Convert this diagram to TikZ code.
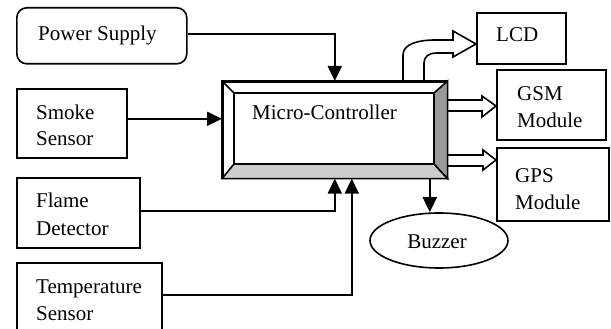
\documentclass[tikz,border=0pt]{standalone}
\usepackage{fontspec}
\setmainfont{Liberation Serif}
\usetikzlibrary{arrows.meta,calc,shapes.geometric}
\begin{document}
\begin{tikzpicture}[x=1pt,y=-1pt,
  box/.style={draw,line width=1.6pt,inner sep=0pt,fill=white,anchor=north west},
  txt/.style={anchor=base west,inner sep=0pt,font=\fontsize{21}{27}\selectfont},
  conn/.style={line width=2pt,-{Triangle[length=15pt,width=14pt]}},
  blk/.style={draw,line width=1.6pt,fill=white,line join=miter}]
\useasboundingbox (0,0) rectangle (611,329);
\clip (0,0) rectangle (611,329);
% boxes
\node[box,rounded corners=10pt,minimum width=170pt,minimum height=56pt] (ps) at (16,7) {};
\node[box,minimum width=110pt,minimum height=69pt] (smoke) at (16,88) {};
\node[box,minimum width=123pt,minimum height=70pt] (flame) at (16,177) {};
\node[box,minimum width=145pt,minimum height=80pt] (temp) at (16,262) {};
\node[box,minimum width=89pt,minimum height=51pt] (lcd) at (476,12) {};
\node[box,minimum width=109pt,minimum height=70pt] (gsm) at (496,69) {};
\node[box,minimum width=112pt,minimum height=73pt] (gps) at (496,147) {};
\node[draw,ellipse,line width=1.6pt,inner sep=0pt,minimum width=138pt,minimum height=55pt] (buzzer) at (439,240.5) {};
% block arrows
\draw[blk] (403,81) -- (403,55) .. controls (403,44) and (418,40) .. (435,40) -- (453,40) -- (453,31)
  -- (lcd.west |- 0,44) -- (453,57) -- (453,53) -- (437,53) .. controls (428,53) and (424,57) .. (424,63) -- (424,81);
\draw[blk] (446,100) -- (482,100) -- (482,96) -- (gsm.west |- 0,106) -- (482,117) -- (482,111) -- (446,111);
\draw[blk] (446,155) -- (483,155) -- (483,150) -- (gps.west |- 0,160) -- (483,170) -- (483,166) -- (446,166);
% micro-controller
\node[box,minimum width=224pt,minimum height=96pt] (mc) at (222,81) {};
\coordinate (i1) at (234,93);
\coordinate (i2) at (434,93);
\coordinate (i3) at (434,164);
\coordinate (i4) at (234,164);
\draw[line width=1.6pt,fill=gray!40,line join=miter] (mc.south west) -- (i4) -- (i3) -- (mc.south east) -- cycle;
\draw[line width=1.6pt,fill=gray!80,line join=miter] (mc.north east) -- (i2) -- (i3) -- (mc.south east) -- cycle;
\draw[line width=1.6pt,line join=miter] (i1) rectangle (i3);
\draw[line width=1.6pt] (mc.north west) -- (i1);
\draw[line width=1.6pt] (mc.north west) rectangle (mc.south east);
% connectors
\draw[conn] ([yshift=2pt]ps.east) -| (mc.north);
\draw[conn] ([yshift=4.5pt]smoke.east) -- ([yshift=4.5pt]smoke.east -| mc.west);
\draw[conn] ([yshift=2pt]flame.east) -| (mc.south);
\draw[conn] ([yshift=8pt]temp.east) -| ([xshift=17pt]mc.south);
\draw[conn] ([xshift=95pt]mc.south) -- ([xshift=95pt]mc.south |- buzzer.north);
% texts
\node[txt] (tps) at (38,41) {Power Supply};
\node[txt] (tsm1) at (36,119) {Smoke};
\node[txt] (tsm2) at (36,146) {Sensor};
\node[txt] (tfl1) at (36,207) {Flame};
\node[txt] (tfl2) at (36,235) {Detector};
\node[txt] (tte1) at (36,293) {Temperature};
\node[txt] (tte2) at (36,320) {Sensor};
\node[txt] (tmc) at (252,120) {Micro-Controller};
\node[txt] (tlcd) at (496,42) {LCD};
\node[txt] (tgsm1) at (517,100) {GSM};
\node[txt] (tgsm2) at (517,128) {Module};
\node[txt] (tgps1) at (515,182) {GPS};
\node[txt] (tgps2) at (515,209) {Module};
\node[txt,anchor=base] (tbz) at (437,248) {Buzzer};
\end{tikzpicture}
\end{document}
